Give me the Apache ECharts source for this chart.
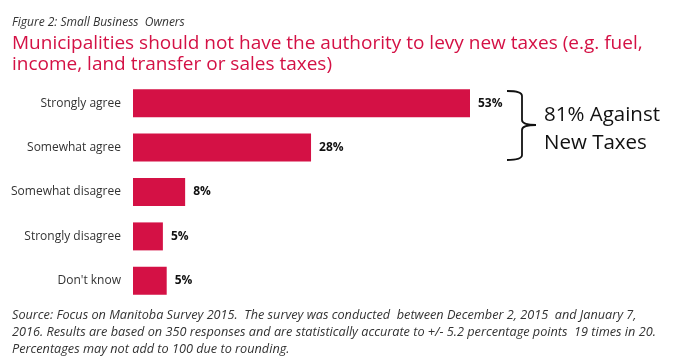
<!DOCTYPE html>
<html><head><meta charset="utf-8">
<script src="https://cdn.jsdelivr.net/npm/echarts@6/dist/echarts.min.js"></script>
<style>html,body{margin:0;padding:0;background:#fff}#c{width:680px;height:363px}</style>
</head><body><div id="c"></div>
<script>
const categories = ["Strongly agree","Somewhat agree","Somewhat disagree","Strongly disagree","Don't know"];
const values = [53, 28, 8.2, 4.7, 5.3];
const valueLabels = ["53%","28%","8%","5%","5%"];
const subtitle = "Figure 2: Small Business  Owners";
const titleText = "Municipalities should not have the authority to levy new taxes (e.g. fuel,\nincome, land transfer or sales taxes)";
const noteLines = ["81% Against","New Taxes"];
const source = "Source: Focus on Manitoba Survey 2015.  The survey was conducted  between December 2, 2015  and January 7,\n2016. Results are based on 350 responses and are statistically accurate to +/- 5.2 percentage points  19 times in 20.\nPercentages may not add to 100 due to rounding.";
const red = "#d41145";
const font = "Open Sans";
const chart = echarts.init(document.getElementById('c'));
const bs = {stroke:'#111',lineWidth:1.8,fill:null};
chart.setOption({
  animation:false,
  textStyle:{fontFamily:font},
  title:[
    {text:subtitle,left:7,top:12,textStyle:{fontFamily:font,fontSize:12,fontStyle:'italic',fontWeight:'normal',color:'#333'}},
    {text:titleText,left:7,top:28,textStyle:{fontFamily:font,fontSize:19,fontWeight:'normal',color:red,lineHeight:21}},
    {text:source,left:7,top:302,textStyle:{fontFamily:font,fontSize:12.7,fontStyle:'italic',fontWeight:'normal',color:'#333',lineHeight:17}}
  ],
  grid:{left:133,top:81,width:337*55/53,height:222,containLabel:false},
  xAxis:{type:'value',min:0,max:55,show:false},
  yAxis:{type:'category',data:categories,inverse:true,
    axisLine:{show:false},axisTick:{show:false},
    axisLabel:{margin:12,fontSize:12,color:'#333',fontFamily:font}},
  series:[{type:'bar',data:values,barWidth:'63%',
    itemStyle:{color:red},
    label:{show:true,position:'right',distance:8,fontWeight:'bold',fontSize:12,color:'#111',fontFamily:font,
      formatter:p=>valueLabels[p.dataIndex]}}],
  graphic:[
    {type:'bezierCurve',shape:{x1:507,y1:91,x2:522,y2:96,cpx1:522,cpy1:91},style:bs},
    {type:'line',shape:{x1:522,y1:96,x2:522,y2:120},style:bs},
    {type:'bezierCurve',shape:{x1:522,y1:120,x2:536,y2:125,cpx1:522,cpy1:125},style:bs},
    {type:'bezierCurve',shape:{x1:536,y1:125,x2:522,y2:130,cpx1:522,cpy1:125},style:bs},
    {type:'line',shape:{x1:522,y1:130,x2:522,y2:155},style:bs},
    {type:'bezierCurve',shape:{x1:522,y1:155,x2:507,y2:160,cpx1:522,cpy1:160},style:bs},
    {type:'text',left:544,top:101,style:{text:noteLines.join('\n'),fontFamily:font,fontSize:20.5,lineHeight:28,fill:'#111'}}
  ]
});
</script></body></html>
